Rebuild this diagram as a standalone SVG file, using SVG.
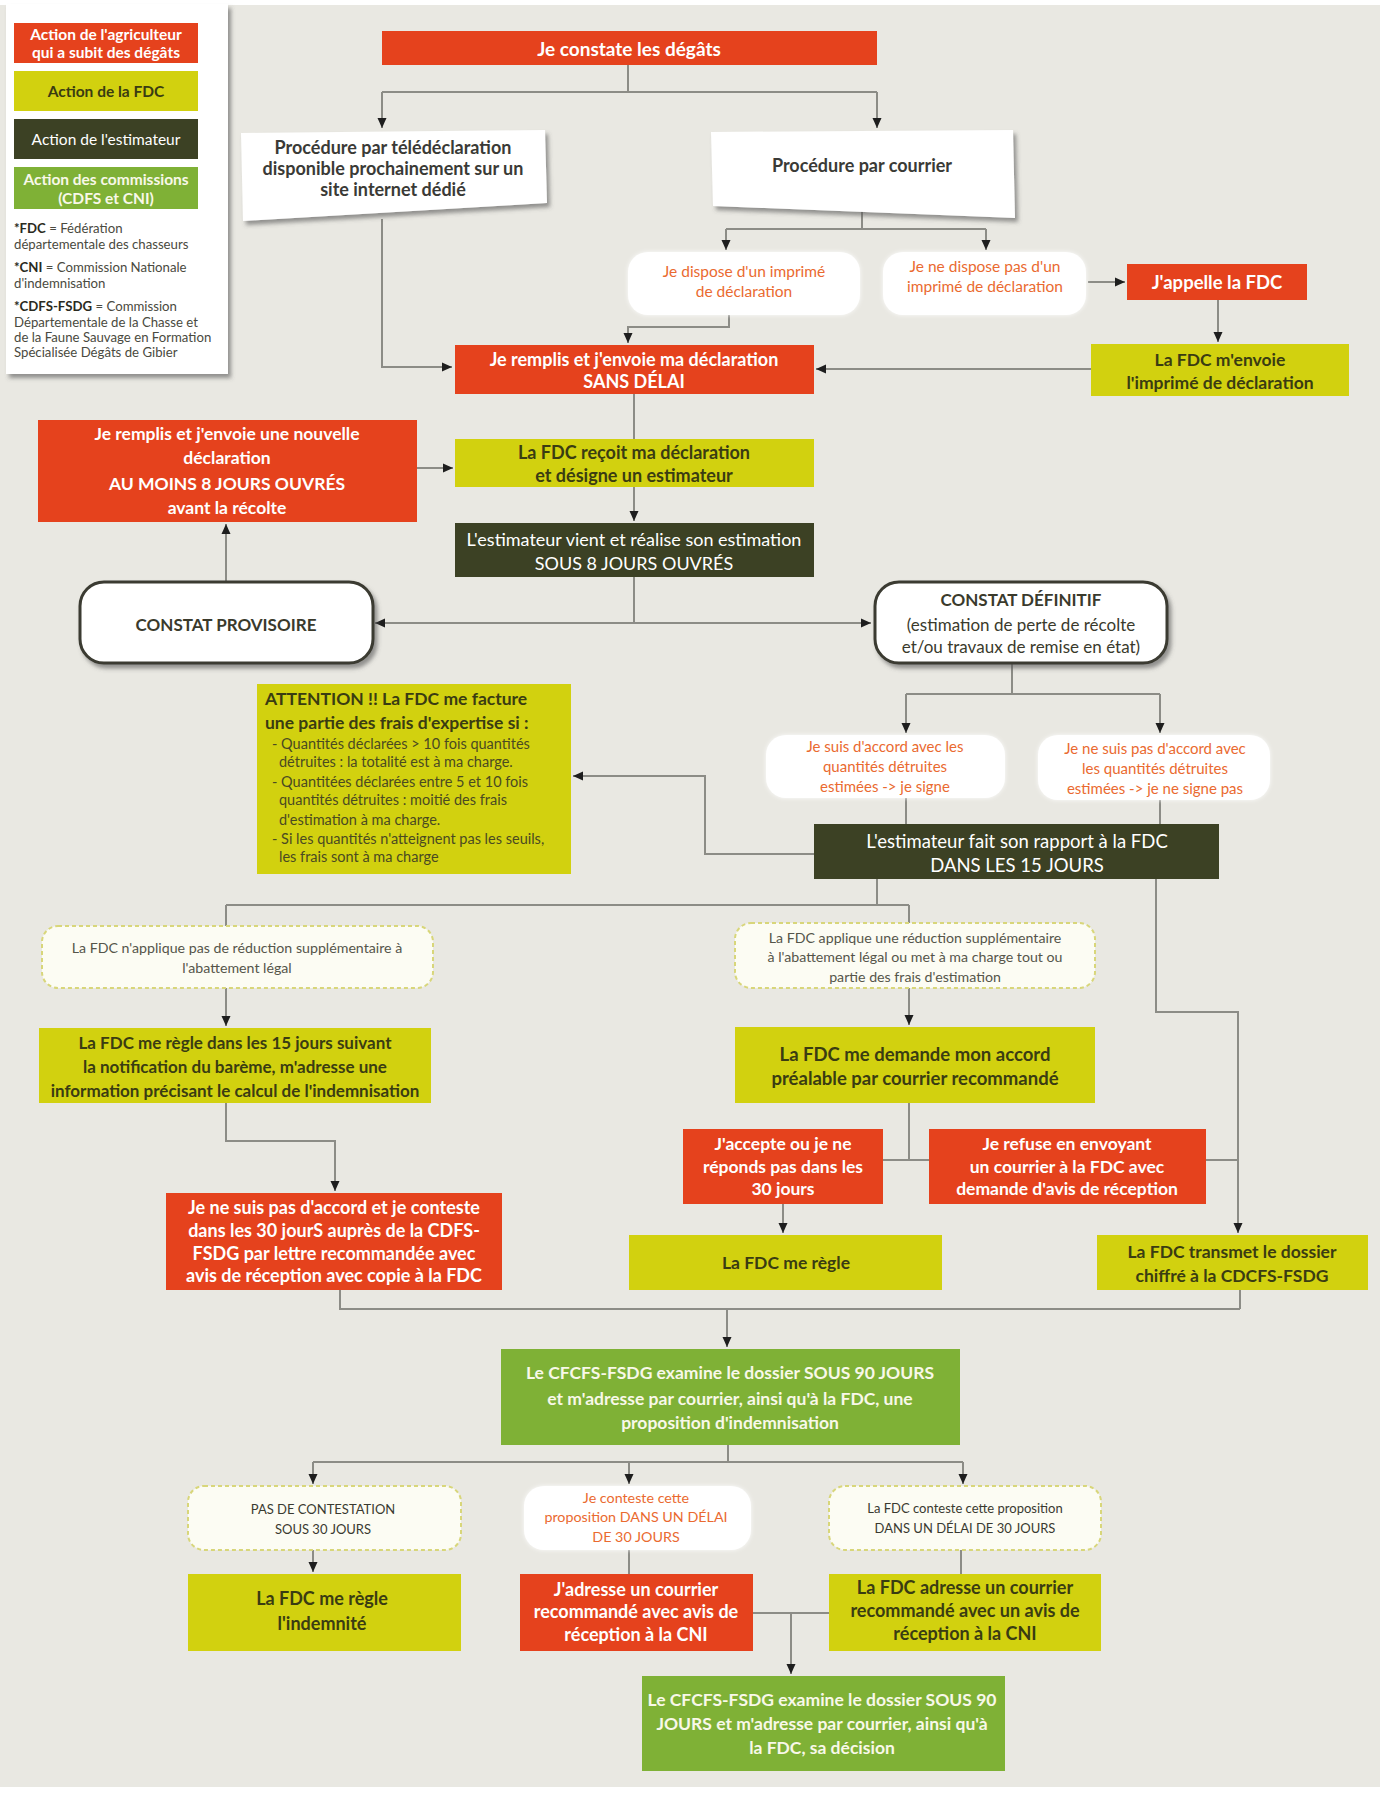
<svg xmlns="http://www.w3.org/2000/svg" width="1385" height="1798" viewBox="0 0 1385 1798">
<style>
text{font-family:Lato,"Open Sans","Liberation Sans",sans-serif;text-anchor:middle;dominant-baseline:central}
.red{fill:#e5421d}
.yel{fill:#d2d10f}
.drk{fill:#3c4124}
.grn{fill:#7fb136}
.tw{fill:#fff;font-weight:bold;font-size:17.5px}
.tWr{fill:#fff;font-size:18px}
.ty{fill:#3a3c12;font-weight:bold;font-size:17.5px}
.tg{fill:#f8f8e8;font-weight:bold;font-size:17.5px}
.tor{fill:#ea6a30;font-size:15px}
.tsm{fill:#55554a;font-size:14.2px}
.tat{fill:#4a4a22;font-size:14.5px;text-anchor:start}
.paper{fill:#fff}
.pill{fill:#fff;filter:url(#glow)}
.dash{fill:#fcfcf3;stroke:#d8d67a;stroke-width:2;stroke-dasharray:4 3}
.cst{fill:#fff;stroke:#3a3a30;stroke-width:3}
.lg{fill:#4a4a40;font-size:13.2px;text-anchor:start}
.lb{font-size:15.5px}
.c{fill:none;stroke:#8c8c86;stroke-width:2}
.a{marker-end:url(#ar)}
</style>
<defs>
<marker id="ar" viewBox="0 0 10 10" refX="10" refY="5" markerWidth="10" markerHeight="10" orient="auto-start-reverse" markerUnits="userSpaceOnUse"><path d="M0,0.5 L10,5 L0,9.5 z" fill="#1e1e1e"/></marker>
<filter id="sh" x="-10%" y="-10%" width="125%" height="135%"><feDropShadow dx="3" dy="4" stdDeviation="2" flood-color="#555" flood-opacity="0.6"/></filter>
<filter id="glow" x="-10%" y="-20%" width="120%" height="140%"><feDropShadow dx="0" dy="0" stdDeviation="2" flood-color="#fff" flood-opacity="0.9"/></filter>
</defs>
<rect x="0" y="0" width="1385" height="1798" fill="#fff"/>
<rect x="0" y="5" width="1380" height="1782" fill="#e9e8e2"/>

<g id="legend">
<rect x="6" y="4" width="222" height="370" fill="#fff" filter="url(#sh)"/>
<rect x="14" y="23" width="184" height="40" class="red"/>
<text x="106" y="34" class="tw lb">Action de l'agriculteur</text>
<text x="106" y="52" class="tw lb">qui a subit des dégâts</text>
<rect x="14" y="71" width="184" height="40" class="yel"/>
<text x="106" y="91" class="ty lb">Action de la FDC</text>
<rect x="14" y="119" width="184" height="40" class="drk"/>
<text x="106" y="139" class="tWr lb">Action de l'estimateur</text>
<rect x="14" y="167" width="184" height="42" class="grn"/>
<text x="106" y="179" class="tg lb">Action des commissions</text>
<text x="106" y="198" class="tg lb">(CDFS et CNI)</text>
<text x="14" y="228" class="lg"><tspan font-weight="bold" fill="#2a2a20">*FDC</tspan> = Fédération</text>
<text x="14" y="244" class="lg">départementale des chasseurs</text>
<text x="14" y="267" class="lg"><tspan font-weight="bold" fill="#2a2a20">*CNI</tspan> = Commission Nationale</text>
<text x="14" y="283" class="lg">d'indemnisation</text>
<text x="14" y="306" class="lg"><tspan font-weight="bold" fill="#2a2a20">*CDFS-FSDG</tspan> = Commission</text>
<text x="14" y="322" class="lg">Départementale de la Chasse et</text>
<text x="14" y="337" class="lg">de la Faune Sauvage en Formation</text>
<text x="14" y="352" class="lg">Spécialisée Dégâts de Gibier</text>
</g>

<g id="connectors">
<path class="c" d="M628,65 V92 M382,92 H877"/>
<path class="c a" d="M382,92 V128"/>
<path class="c a" d="M877,92 V128"/>
<path class="c a" d="M382,219 V367 H452"/>
<path class="c" d="M862,208 V229 M726,229 H986"/>
<path class="c a" d="M726,229 V250"/>
<path class="c a" d="M986,229 V250"/>
<path class="c a" d="M729,315 V327 H628 V343"/>
<path class="c a" d="M1088,282 H1125"/>
<path class="c a" d="M1218,300 V342"/>
<path class="c a" d="M1091,369 H816"/>
<path class="c" d="M634,394 V439"/>
<path class="c a" d="M634,487 V521"/>
<path class="c a" d="M417,468 H453"/>
<path class="c" d="M634,577 V623"/>
<path class="c a" d="M375,623 H871" marker-start="url(#ar)"/>
<path class="c a" d="M226,582 V524"/>
<path class="c" d="M1012,663 V694 M906,694 H1160"/>
<path class="c a" d="M906,694 V733"/>
<path class="c a" d="M1160,694 V733"/>
<path class="c" d="M906,798 V824 M1160,800 V824"/>
<path class="c a" d="M814,854 H705 V776 H573"/>
<path class="c" d="M877,879 V905 M226,905 H909 M226,905 V926 M909,905 V923"/>
<path class="c a" d="M1156,879 V1012 H1238 V1233"/>
<path class="c a" d="M226,988 V1026"/>
<path class="c a" d="M909,988 V1025"/>
<path class="c" d="M909,1103 V1160 M883,1160 H929 M1206,1160 H1238"/>
<path class="c a" d="M783,1204 V1233"/>
<path class="c a" d="M226,1103 V1141 H335 V1191"/>
<path class="c" d="M340,1290 V1309 H1240 M1240,1290 V1309"/>
<path class="c a" d="M727,1309 V1347"/>
<path class="c" d="M728,1445 V1462 M313,1462 H963"/>
<path class="c a" d="M313,1462 V1484"/>
<path class="c a" d="M629,1462 V1484"/>
<path class="c a" d="M963,1462 V1484"/>
<path class="c a" d="M313,1550 V1572"/>
<path class="c" d="M629,1550 V1574 M961,1550 V1574 M753,1613 H829"/>
<path class="c a" d="M791,1613 V1674"/>
</g>

<g id="n1"><rect x="382" y="31" width="495" height="34" class="red"/>
<text x="629" y="48" class="tw" style="font-size:19px">Je constate les dégâts</text></g>

<g id="n2"><polygon points="241,133 545,130 547,203 243,221" class="paper" filter="url(#sh)"/>
<text x="393" y="147" class="ty" style="fill:#3a3a36;font-size:18px">Procédure par télédéclaration</text>
<text x="393" y="168" class="ty" style="fill:#3a3a36;font-size:18px">disponible prochainement sur un</text>
<text x="393" y="189" class="ty" style="fill:#3a3a36;font-size:18px">site internet dédié</text></g>

<g id="n3"><polygon points="711,132 1013,130 1015,218 713,206" class="paper" filter="url(#sh)"/>
<text x="862" y="165" class="ty" style="fill:#3a3a36;font-size:18px">Procédure par courrier</text></g>

<g id="n4"><rect x="628" y="252" width="232" height="63" rx="20" class="pill"/>
<text x="744" y="271" class="tor" style="font-size:15.5px">Je dispose d'un imprimé</text>
<text x="744" y="291" class="tor" style="font-size:15.5px">de déclaration</text></g>

<g id="n5"><rect x="883" y="252" width="203" height="63" rx="20" class="pill"/>
<text x="985" y="266" class="tor" style="font-size:15.5px">Je ne dispose pas d'un</text>
<text x="985" y="286" class="tor" style="font-size:15.5px">imprimé de déclaration</text></g>

<g id="n6"><rect x="1127" y="264" width="180" height="36" class="red"/>
<text x="1217" y="282" class="tw" style="font-size:18.5px">J'appelle la FDC</text></g>

<g id="n7"><rect x="1091" y="344" width="258" height="52" class="yel"/>
<text x="1220" y="359" class="ty">La FDC m'envoie</text>
<text x="1220" y="382" class="ty">l'imprimé de déclaration</text></g>

<g id="n8"><rect x="455" y="345" width="359" height="49" class="red"/>
<text x="634" y="359" class="tw" style="font-size:18px">Je remplis et j'envoie ma déclaration</text>
<text x="634" y="381" class="tw" style="font-size:18px">SANS DÉLAI</text></g>

<g id="n9"><rect x="455" y="439" width="359" height="48" class="yel"/>
<text x="634" y="452" class="ty" style="font-size:18px">La FDC reçoit ma déclaration</text>
<text x="634" y="475" class="ty" style="font-size:18px">et désigne un estimateur</text></g>

<g id="n10"><rect x="455" y="523" width="359" height="54" class="drk"/>
<text x="634" y="539" class="tWr">L'estimateur vient et réalise son estimation</text>
<text x="634" y="563" class="tWr">SOUS 8 JOURS OUVRÉS</text></g>

<g id="n11"><rect x="38" y="420" width="379" height="102" class="red"/>
<text x="227" y="433" class="tw">Je remplis et j'envoie une nouvelle</text>
<text x="227" y="457" class="tw">déclaration</text>
<text x="227" y="483" class="tw">AU MOINS 8 JOURS OUVRÉS</text>
<text x="227" y="507" class="tw">avant la récolte</text></g>

<g id="n12"><rect x="80" y="582" width="293" height="81" rx="24" class="cst" filter="url(#sh)"/>
<text x="226" y="624" class="ty" style="fill:#3a3a2c;font-size:17px">CONSTAT PROVISOIRE</text></g>

<g id="n13"><rect x="875" y="582" width="292" height="81" rx="24" class="cst" filter="url(#sh)"/>
<text x="1021" y="599" class="ty" style="fill:#3a3a2c;font-size:17px">CONSTAT DÉFINITIF</text>
<text x="1021" y="624" style="fill:#3a3a2c;font-size:17px">(estimation de perte de récolte</text>
<text x="1021" y="646" style="fill:#3a3a2c;font-size:17px">et/ou travaux de remise en état)</text></g>

<g id="n14"><rect x="766" y="735" width="239" height="63" rx="20" class="pill"/>
<text x="885" y="746" class="tor">Je suis d'accord avec les</text>
<text x="885" y="766" class="tor">quantités détruites</text>
<text x="885" y="786" class="tor">estimées -&gt; je signe</text></g>

<g id="n15"><rect x="1038" y="735" width="232" height="65" rx="20" class="pill"/>
<text x="1155" y="748" class="tor">Je ne suis pas d'accord avec</text>
<text x="1155" y="768" class="tor">les quantités détruites</text>
<text x="1155" y="788" class="tor">estimées -&gt; je ne signe pas</text></g>

<g id="n16"><rect x="814" y="824" width="405" height="55" class="drk"/>
<text x="1017" y="841" class="tWr" style="font-size:18.5px">L'estimateur fait son rapport à la FDC</text>
<text x="1017" y="865" class="tWr" style="font-size:18.5px">DANS LES 15 JOURS</text></g>

<g id="n17"><rect x="257" y="684" width="314" height="190" class="yel"/>
<text x="265" y="698" class="ty" style="text-anchor:start">ATTENTION !! La FDC me facture</text>
<text x="265" y="722" class="ty" style="text-anchor:start">une partie des frais d'expertise si :</text>
<text x="272" y="743" class="tat">- Quantités déclarées &gt; 10 fois quantités</text>
<text x="279" y="761" class="tat">détruites : la totalité est à ma charge.</text>
<text x="272" y="781" class="tat">- Quantitées déclarées entre 5 et 10 fois</text>
<text x="279" y="799" class="tat">quantités détruites : moitié des frais</text>
<text x="279" y="819" class="tat">d'estimation à ma charge.</text>
<text x="272" y="838" class="tat">- Si les quantités n'atteignent pas les seuils,</text>
<text x="279" y="856" class="tat">les frais sont à ma charge</text></g>

<g id="n18"><rect x="42" y="926" width="391" height="62" rx="16" class="dash"/>
<text x="237" y="947" class="tsm">La FDC n'applique pas de réduction supplémentaire à</text>
<text x="237" y="967" class="tsm">l'abattement légal</text></g>

<g id="n19"><rect x="39" y="1028" width="392" height="75" class="yel"/>
<text x="235" y="1042" class="ty" style="font-size:17px">La FDC me règle dans les 15 jours suivant</text>
<text x="235" y="1066" class="ty" style="font-size:17px">la notification du barème, m'adresse une</text>
<text x="235" y="1090" class="ty" style="font-size:17px">information précisant le calcul de l'indemnisation</text></g>

<g id="n20"><rect x="735" y="923" width="360" height="65" rx="16" class="dash"/>
<text x="915" y="937" class="tsm">La FDC applique une réduction supplémentaire</text>
<text x="915" y="956" class="tsm">à l'abattement légal ou met à ma charge tout ou</text>
<text x="915" y="976" class="tsm">partie des frais d'estimation</text></g>

<g id="n21"><rect x="735" y="1027" width="360" height="76" class="yel"/>
<text x="915" y="1054" class="ty" style="font-size:18.5px">La FDC me demande mon accord</text>
<text x="915" y="1078" class="ty" style="font-size:18.5px">préalable par courrier recommandé</text></g>

<g id="n22"><rect x="683" y="1129" width="200" height="75" class="red"/>
<text x="783" y="1143" class="tw">J'accepte ou je ne</text>
<text x="783" y="1166" class="tw">réponds pas dans les</text>
<text x="783" y="1188" class="tw">30 jours</text></g>

<g id="n23"><rect x="929" y="1129" width="277" height="75" class="red"/>
<text x="1067" y="1143" class="tw">Je refuse en envoyant</text>
<text x="1067" y="1166" class="tw">un courrier à la FDC avec</text>
<text x="1067" y="1188" class="tw">demande d'avis de réception</text></g>

<g id="n24"><rect x="629" y="1235" width="313" height="55" class="yel"/>
<text x="786" y="1262" class="ty">La FDC me règle</text></g>

<g id="n25"><rect x="1097" y="1235" width="271" height="55" class="yel"/>
<text x="1232" y="1251" class="ty">La FDC transmet le dossier</text>
<text x="1232" y="1275" class="ty">chiffré à la CDCFS-FSDG</text></g>

<g id="n26"><rect x="166" y="1193" width="336" height="97" class="red"/>
<text x="334" y="1207" class="tw" style="font-size:18px">Je ne suis pas d'accord et je conteste</text>
<text x="334" y="1230" class="tw" style="font-size:18px">dans les 30 jourS auprès de la CDFS-</text>
<text x="334" y="1253" class="tw" style="font-size:18px">FSDG par lettre recommandée avec</text>
<text x="334" y="1275" class="tw" style="font-size:18px">avis de réception avec copie à la FDC</text></g>

<g id="n27"><rect x="501" y="1349" width="459" height="96" class="grn"/>
<text x="730" y="1372" class="tg">Le CFCFS-FSDG examine le dossier SOUS 90 JOURS</text>
<text x="730" y="1398" class="tg">et m'adresse par courrier, ainsi qu'à la FDC, une</text>
<text x="730" y="1422" class="tg">proposition d'indemnisation</text></g>

<g id="n28"><rect x="188" y="1486" width="273" height="64" rx="16" class="dash"/>
<text x="323" y="1509" class="tsm" style="fill:#3a3a30;font-size:13px">PAS DE CONTESTATION</text>
<text x="323" y="1529" class="tsm" style="fill:#3a3a30;font-size:13px">SOUS 30 JOURS</text></g>

<g id="n29"><rect x="524" y="1486" width="227" height="64" rx="20" class="pill"/>
<text x="636" y="1497" class="tor" style="font-size:14.3px">Je conteste cette</text>
<text x="636" y="1516" class="tor" style="font-size:14.3px">proposition DANS UN DÉLAI</text>
<text x="636" y="1536" class="tor" style="font-size:14.3px">DE 30 JOURS</text></g>

<g id="n30"><rect x="829" y="1486" width="272" height="64" rx="16" class="dash"/>
<text x="965" y="1508" class="tsm" style="fill:#3a3a30;font-size:13px">La FDC conteste cette proposition</text>
<text x="965" y="1528" class="tsm" style="fill:#3a3a30;font-size:13px">DANS UN DÉLAI DE 30 JOURS</text></g>

<g id="n31"><rect x="188" y="1574" width="273" height="77" class="yel"/>
<text x="322" y="1598" class="ty" style="font-size:18px">La FDC me règle</text>
<text x="322" y="1623" class="ty" style="font-size:18px">l'indemnité</text></g>

<g id="n32"><rect x="520" y="1574" width="233" height="77" class="red"/>
<text x="636" y="1589" class="tw" style="font-size:18px">J'adresse un courrier</text>
<text x="636" y="1611" class="tw" style="font-size:18px">recommandé avec avis de</text>
<text x="636" y="1634" class="tw" style="font-size:18px">réception à la CNI</text></g>

<g id="n33"><rect x="829" y="1574" width="272" height="77" class="yel"/>
<text x="965" y="1587" class="ty" style="font-size:18px">La FDC adresse un courrier</text>
<text x="965" y="1610" class="ty" style="font-size:18px">recommandé avec un avis de</text>
<text x="965" y="1633" class="ty" style="font-size:18px">réception à la CNI</text></g>

<g id="n34"><rect x="642" y="1676" width="363" height="95" class="grn"/>
<text x="822" y="1699" class="tg">Le CFCFS-FSDG examine le dossier SOUS 90</text>
<text x="822" y="1723" class="tg">JOURS et m'adresse par courrier, ainsi qu'à</text>
<text x="822" y="1747" class="tg">la FDC, sa décision</text></g>
</svg>
